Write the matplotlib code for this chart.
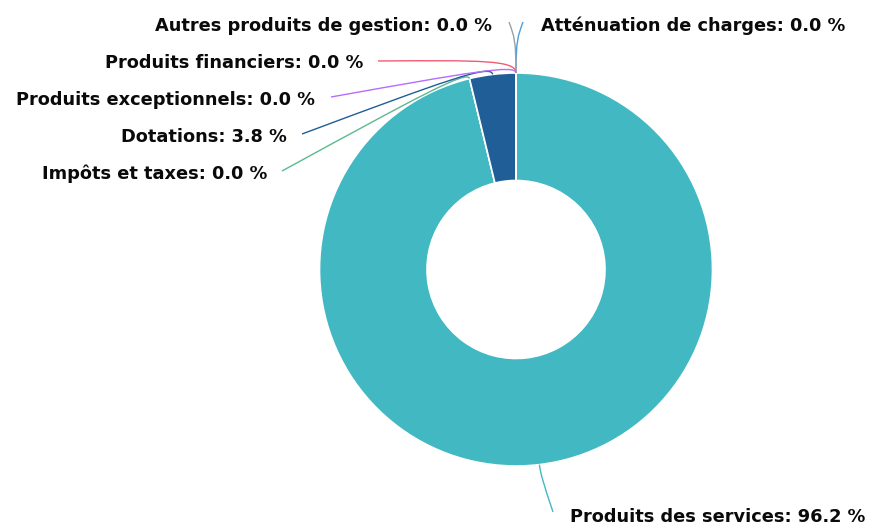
import numpy as np
import matplotlib
matplotlib.use("Agg")
import matplotlib.pyplot as plt
from matplotlib.path import Path
from matplotlib.patches import PathPatch

# ---- data ----
categories = ["Atténuation de charges", "Produits des services", "Impôts et taxes",
              "Dotations", "Produits exceptionnels", "Produits financiers",
              "Autres produits de gestion"]
values = [0.0, 96.2, 0.0, 3.8, 0.0, 0.0, 0.0]
colors = ["#4f9fdc", "#42b8c2", "#5cb98f", "#1f5e96", "#b66cff", "#f25c72", "#9aa0a6"]

# ---- layout (pixel coords, y from top) ----
W, H = 876, 525
label_pos = [(541, 26, 'left'), (570, 517, 'left'), (267, 174, 'right'),
             (287, 137, 'right'), (315, 100, 'right'), (363, 63, 'right'),
             (492, 26, 'right')]
conn_end = [(523, 22), (553, 512), (282, 171), (302, 134), (331, 97), (378, 61), (509, 22)]
conn_len = [32, 10, 9, 11, 9, 13, 32]

fig = plt.figure(figsize=(W / 100, H / 100), dpi=100)
ax = fig.add_axes([0, 0, 1, 1])
cx, cy = 516, H - 269.5
R, r = 196.5, 89

wedges, _ = ax.pie(values, colors=colors, startangle=90, counterclock=False,
                   radius=R, center=(cx, cy),
                   wedgeprops=dict(width=R - r, edgecolor='white', linewidth=1.2))
ax.set_xlim(0, W)
ax.set_ylim(0, H)
ax.set_aspect('auto')
ax.axis('off')

total = sum(values)
for i, (w, name, v) in enumerate(zip(wedges, categories, values)):
    ang = np.deg2rad((w.theta1 + w.theta2) / 2)
    u = np.array([np.cos(ang), np.sin(ang)])
    E = np.array([cx, cy]) + R * u
    L = np.array([conn_end[i][0], H - conn_end[i][1]], dtype=float)
    P1 = E + u * conn_len[i]
    P2 = P1 + (L - P1) * 0.25
    path = Path([E, P1, P2, L], [Path.MOVETO, Path.CURVE4, Path.CURVE4, Path.CURVE4])
    ax.add_patch(PathPatch(path, fill=False, edgecolor=colors[i], lw=1.0))
    tx, ty, ha = label_pos[i]
    pct = v / total * 100
    ax.text(tx, H - ty, f"{name}: {pct:.1f} %", ha=ha, va='center',
            fontsize=12.8, fontweight='bold', color='#0a0a0a', family='DejaVu Sans')

fig.savefig("out.png", dpi=100)
